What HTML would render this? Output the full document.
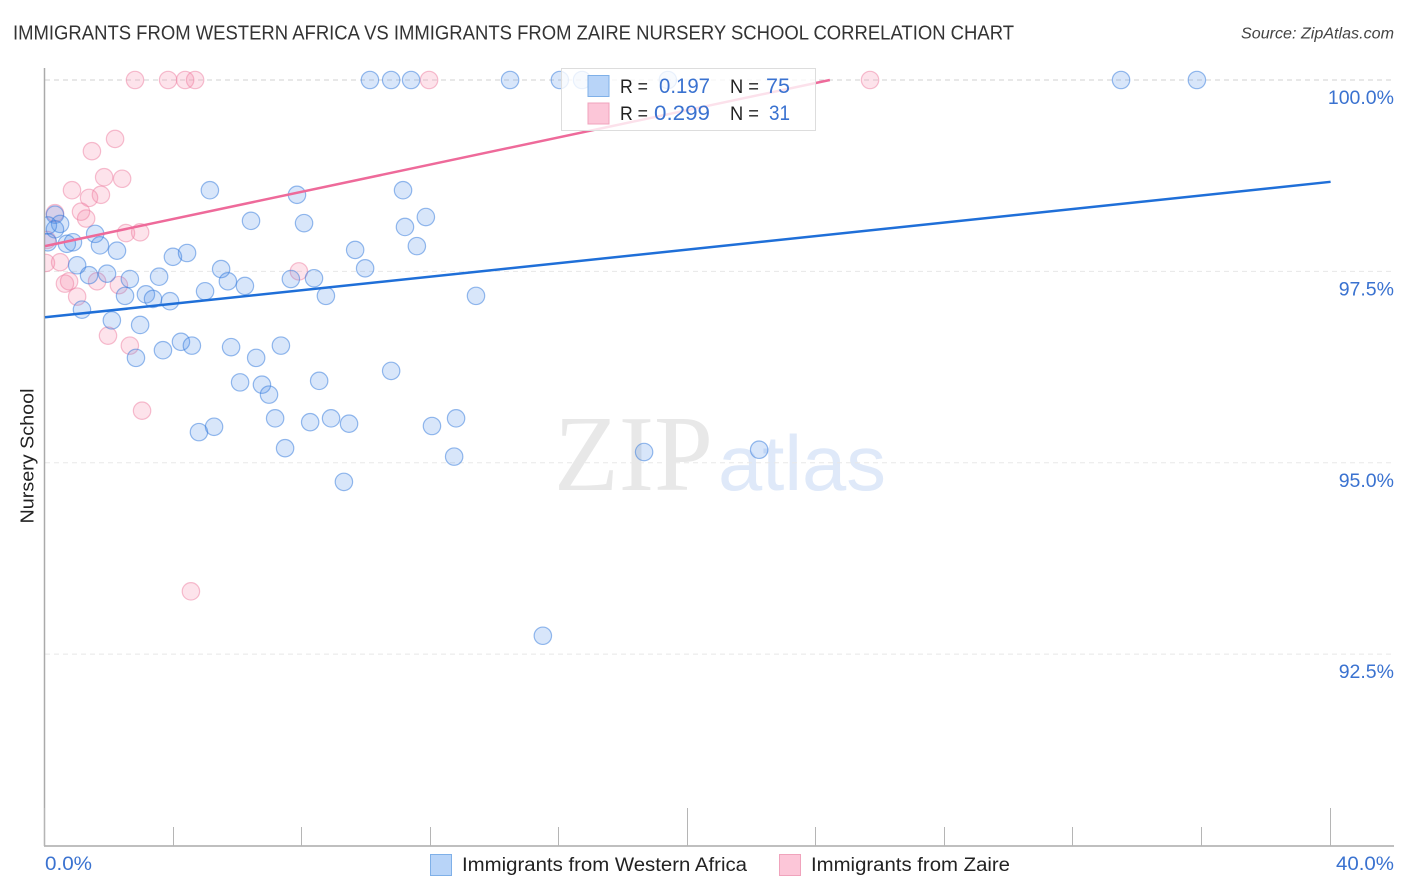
<!DOCTYPE html>
<html lang="en">
<head>
<meta charset="utf-8">
<title>Nursery School Correlation Chart</title>
<style>
  html, body { margin: 0; padding: 0; background: #fff; }
  svg { display: block; font-family: "Liberation Sans", sans-serif; }
</style>
</head>
<body>
<svg id="chart" xmlns="http://www.w3.org/2000/svg" width="1406" height="892" viewBox="0 0 1406 892">
  <defs>
    <clipPath id="plot-clip"><rect x="45" y="60" width="1350" height="786"></rect></clipPath>
  </defs>
  <rect width="1406" height="892" fill="#ffffff"></rect>

  <text x="13" y="39.500" font-size="20" fill="#333333" textLength="1001" lengthAdjust="spacingAndGlyphs">IMMIGRANTS FROM WESTERN AFRICA VS IMMIGRANTS FROM ZAIRE NURSERY SCHOOL CORRELATION CHART</text>
  <text x="1241" y="38.500" font-size="15.500" font-style="italic" fill="#444444" textLength="153" lengthAdjust="spacingAndGlyphs">Source: ZipAtlas.com</text>

  <g id="watermark">
    <text x="554" y="490" font-family="'Liberation Serif', serif" font-size="108" fill="#e8e8e8" textLength="159" lengthAdjust="spacingAndGlyphs">ZIP</text>
    <text x="718" y="490" font-size="78" fill="#dfe9f9" textLength="168" lengthAdjust="spacingAndGlyphs">atlas</text>
  </g>

  <g id="grid"></g>

  <line x1="44.500" y1="68" x2="44.500" y2="846" stroke="#aaaaaa" stroke-width="1.500"></line>
  <line x1="44" y1="846" x2="1394" y2="846" stroke="#aaaaaa" stroke-width="1.500"></line>
  <g id="x-ticks"></g>
  <g id="y-labels"></g>

  <text transform="translate(33.500 456) rotate(-90)" text-anchor="middle" font-size="18" fill="#222222" textLength="135" lengthAdjust="spacingAndGlyphs">Nursery School</text>
  <text x="45" y="870" font-size="19" fill="#3a72d0" textLength="47" lengthAdjust="spacingAndGlyphs">0.0%</text>
  <text x="1336" y="870" font-size="19" fill="#3a72d0" textLength="58" lengthAdjust="spacingAndGlyphs">40.0%</text>

  <g id="points" clip-path="url(#plot-clip)"></g>
  <g id="trends"></g>

  <g id="stats-legend">
    <rect x="561.500" y="68.500" width="254" height="62" fill="#ffffff" fill-opacity="0.8" stroke="#dddddd" stroke-width="1"></rect>
    <rect x="588" y="75.500" width="21" height="21" fill="#b8d4f8" stroke="#7fb0e8" stroke-width="1"></rect>
    <rect x="588" y="103" width="21" height="21" fill="#fcc6d8" stroke="#f0a3bc" stroke-width="1"></rect>
    <text x="620" y="93" font-size="19" fill="#222222" textLength="28" lengthAdjust="spacingAndGlyphs">R =</text>
    <text x="659" y="93" font-size="21" fill="#3a72d0" textLength="51" lengthAdjust="spacingAndGlyphs">0.197</text>
    <text x="730" y="93" font-size="19" fill="#222222" textLength="29" lengthAdjust="spacingAndGlyphs">N =</text>
    <text x="766" y="93" font-size="21" fill="#3a72d0" textLength="24" lengthAdjust="spacingAndGlyphs">75</text>
    <text x="620" y="120" font-size="19" fill="#222222" textLength="28" lengthAdjust="spacingAndGlyphs">R =</text>
    <text x="654" y="120" font-size="21" fill="#3a72d0" textLength="56" lengthAdjust="spacingAndGlyphs">0.299</text>
    <text x="730" y="120" font-size="19" fill="#222222" textLength="29" lengthAdjust="spacingAndGlyphs">N =</text>
    <text x="769" y="120" font-size="21" fill="#3a72d0" textLength="21" lengthAdjust="spacingAndGlyphs">31</text>
  </g>

  <g id="bottom-legend">
    <rect x="430.500" y="854.500" width="21" height="21" fill="#b8d4f8" stroke="#7fb0e8" stroke-width="1"></rect>
    <text x="462" y="871" font-size="19" fill="#222222" textLength="285" lengthAdjust="spacingAndGlyphs">Immigrants from Western Africa</text>
    <rect x="779.500" y="854.500" width="21" height="21" fill="#fcc6d8" stroke="#f0a3bc" stroke-width="1"></rect>
    <text x="811" y="871" font-size="19" fill="#222222" textLength="199" lengthAdjust="spacingAndGlyphs">Immigrants from Zaire</text>
  </g>
</svg>

<script>
const blueX = [5.13,6.41,7.84,8.06,0.31,0.47,0.09,0.31,0.09,0.68,0.87,1.56,1.71,2.24,3.98,4.42,1.00,1.37,1.93,2.64,3.55,5.48,5.69,6.22,7.65,3.14,2.49,3.36,3.89,4.98,1.15,2.08,2.96,3.67,4.23,4.57,5.79,6.57,7.34,2.83,13.41,8.74,10.77,6.07,6.75,6.97,8.53,7.16,8.25,8.90,9.46,4.79,5.26,7.47,9.30,12.04,12.79,12.73,18.64,22.22,15.49,10.11,10.77,11.39,14.47,16.02,16.71,19.38,33.48,35.84,11.14,11.20,11.85,9.65,11.57,9.96,8.37];
const blueY = [98.56,98.16,98.50,98.13,98.24,98.12,98.10,98.05,97.88,97.86,97.88,97.99,97.84,97.77,97.69,97.74,97.58,97.45,97.47,97.40,97.43,97.53,97.37,97.31,97.40,97.20,97.18,97.14,97.11,97.24,97.00,96.86,96.80,96.47,96.58,96.53,96.51,96.37,96.53,96.37,97.18,97.18,96.20,96.05,96.02,95.89,96.07,95.58,95.53,95.58,95.51,95.40,95.47,95.19,94.75,95.48,95.58,95.08,95.14,95.17,92.74,100,100,100,100,100,100,100,100,100,98.56,98.08,98.21,97.78,97.83,97.54,97.41];

const pinkX = [2.80,3.83,4.36,4.67,11.95,25.67,2.18,1.46,1.84,2.40,0.84,1.74,1.37,1.12,1.28,0.31,2.52,2.96,0.06,0.03,0.47,0.75,0.62,1.62,2.30,1.00,1.96,2.64,7.90,3.02,4.54];
const pinkY = [100,100,100,100,100,100,99.23,99.07,98.73,98.71,98.56,98.50,98.46,98.28,98.19,98.26,98.00,98.01,97.91,97.61,97.62,97.37,97.34,97.37,97.32,97.17,96.66,96.53,97.50,95.68,93.32];

const blueTrendX = [0, 40];
const blueTrendY = [96.90, 98.67];
const pinkTrendX = [0, 24.42];
const pinkTrendY = [97.83, 100];

const yTickValues = [100, 97.5, 95, 92.5];
const yTickLabels = ["100.0%", "97.5%", "95.0%", "92.5%"];
const xTickValues = [0, 4, 8, 12, 16, 20, 24, 28, 32, 36, 40];
const xMajorTicks = [0, 20, 40];

const SVG_NS = "http://www.w3.org/2000/svg";
function xScale(v) { return 45 + v * 32.14; }
function yScale(v) { return 80 + (100 - v) * 76.55; }

const gridGroup = document.getElementById("grid");
const yLabelGroup = document.getElementById("y-labels");
yTickValues.forEach(function (v, i) {
  const gridLine = document.createElementNS(SVG_NS, "line");
  gridLine.setAttribute("x1", 45);
  gridLine.setAttribute("x2", 1394);
  gridLine.setAttribute("y1", yScale(v));
  gridLine.setAttribute("y2", yScale(v));
  gridLine.setAttribute("stroke", v === 100 ? "#d2d2d2" : "#e8e8e8");
  gridLine.setAttribute("stroke-width", "1");
  gridLine.setAttribute("stroke-dasharray", "5 4");
  
  
  gridGroup.appendChild(gridLine);

  const label = document.createElementNS(SVG_NS, "text");
  label.setAttribute("x", 1394);
  label.setAttribute("y", yScale(v) + 24);
  label.setAttribute("text-anchor", "end");
  label.setAttribute("font-size", "19.500");
  label.setAttribute("fill", "#3a72d0");
  
  
  label.textContent = yTickLabels[i];
  yLabelGroup.appendChild(label);
});

const xTickGroup = document.getElementById("x-ticks");
xTickValues.forEach(function (v) {
  const tick = document.createElementNS(SVG_NS, "line");
  const px = Math.round(xScale(v)) - 0.5;
  tick.setAttribute("x1", px);
  tick.setAttribute("x2", px);
  tick.setAttribute("y1", xMajorTicks.indexOf(v) >= 0 ? 808 : 827);
  tick.setAttribute("y2", 846);
  tick.setAttribute("stroke", "#b5b5b5");
  tick.setAttribute("stroke-width", "1");
  
  
  xTickGroup.appendChild(tick);
});

const pointGroup = document.getElementById("points");
function drawPoints(xs, ys, fill, stroke, markName) {
  xs.forEach(function (xv, i) {
    const dot = document.createElementNS(SVG_NS, "circle");
    dot.setAttribute("cx", xScale(xv));
    dot.setAttribute("cy", yScale(ys[i]));
    dot.setAttribute("r", 8.7);
    dot.setAttribute("fill", fill);
    dot.setAttribute("fill-opacity", "0.22");
    dot.setAttribute("stroke", stroke);
    dot.setAttribute("stroke-opacity", "0.5");
    dot.setAttribute("stroke-width", "1.2");
    
    
    pointGroup.appendChild(dot);
  });
}
drawPoints(pinkX, pinkY, "#f77fa6", "#ee7fa2", "zaire-point");
drawPoints(blueX, blueY, "#4f8fe8", "#2f78dc", "western-africa-point");

const trendGroup = document.getElementById("trends");
function drawTrend(xs, ys, color, lineName) {
  const line = document.createElementNS(SVG_NS, "line");
  line.setAttribute("x1", xScale(xs[0]));
  line.setAttribute("y1", yScale(ys[0]));
  line.setAttribute("x2", xScale(xs[1]));
  line.setAttribute("y2", yScale(ys[1]));
  line.setAttribute("stroke", color);
  line.setAttribute("stroke-width", "2.5");
  
  
  trendGroup.appendChild(line);
}
drawTrend(pinkTrendX, pinkTrendY, "#ee6a9a", "zaire-trend-line");
drawTrend(blueTrendX, blueTrendY, "#1f6fd8", "western-africa-trend-line");
</script>
</body>
</html>
